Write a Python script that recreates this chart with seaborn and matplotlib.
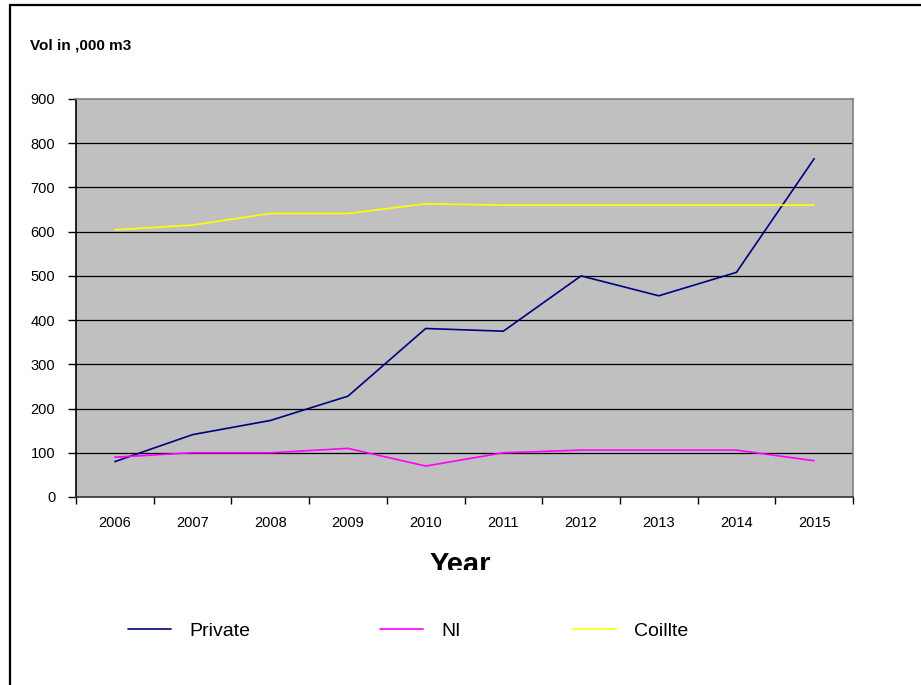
import matplotlib
matplotlib.use("Agg")
import matplotlib.pyplot as plt
import seaborn as sns
import pandas as pd
from matplotlib.transforms import Bbox
from matplotlib.lines import Line2D

years = ["2006", "2007", "2008", "2009", "2010", "2011", "2012", "2013", "2014", "2015"]
private = [80, 141, 173, 228, 381, 375, 500, 455, 508, 765]
ni = [90, 100, 100, 110, 70, 100, 106, 106, 106, 82]
coillte = [604, 615, 641, 641, 663, 660, 660, 660, 660, 660]
series_names = ["Private", "NI", "Coillte"]
series_colors = ["#000080", "#FF00FF", "#FFFF00"]
y_ticks = [0, 100, 200, 300, 400, 500, 600, 700, 800, 900]

df = pd.DataFrame({
    "Year": years * 3,
    "Volume": private + ni + coillte,
    "Series": ["Private"] * 10 + ["NI"] * 10 + ["Coillte"] * 10,
})
df["pos"] = list(range(10)) * 3

sns.set_theme(style="white")
plt.rcParams["font.family"] = ["Liberation Sans", "DejaVu Sans"]
plt.rcParams["text.color"] = "black"
plt.rcParams["axes.labelcolor"] = "black"
plt.rcParams["xtick.color"] = "black"
plt.rcParams["ytick.color"] = "black"

W, H = 921, 685
fig = plt.figure(figsize=(W / 100, H / 100), dpi=100)
fig.patch.set_facecolor("white")
ax = fig.add_axes([76 / W, 1 - 497 / H, (853 - 76) / W, (497 - 99) / H])
ax.set_facecolor("#C0C0C0")

sns.lineplot(data=df, x="pos", y="Volume", hue="Series", hue_order=series_names,
             palette=dict(zip(series_names, series_colors)), linewidth=1.2,
             ax=ax, legend=False, zorder=3)

ax.set_xlim(-0.5, 9.5)
ax.set_ylim(0, 900)
ax.set_yticks(y_ticks)
ax.set_yticklabels([str(v) for v in y_ticks], fontsize=10.5, color="black")
ax.set_xticks(range(10))
ax.set_xticklabels(years, fontsize=10.5, color="black")
ax.set_xticks([i - 0.5 for i in range(11)], minor=True)
ax.tick_params(axis="x", which="major", length=0, pad=14)
ax.tick_params(axis="x", which="minor", length=5, width=1, color="black", direction="out", bottom=True)
ax.tick_params(axis="y", which="major", length=6, width=1, color="black", direction="out", left=True, pad=9)
ax.set_xlabel("")
ax.set_ylabel("")
ax.grid(False)
for v in y_ticks[1:-1]:
    ax.axhline(v, color="black", linewidth=0.9, zorder=1)

ax.spines["left"].set_color("black")
ax.spines["bottom"].set_color("#303030")
ax.spines["top"].set_color("#808080")
ax.spines["right"].set_color("#808080")
for s in ax.spines.values():
    s.set_linewidth(1.2)
    s.set_visible(True)

fig.text(30 / W, 1 - 46 / H, "Vol in ,000 m3", fontsize=11, fontweight="bold",
         ha="left", va="center", color="black")

yt = fig.text(460 / W, 1 - 573 / H, "Year", fontsize=21, fontweight="bold",
              ha="center", va="baseline", color="black")
yt.set_clip_box(Bbox([[0, H - 570], [W, H]]))
yt.set_clip_on(True)

# legend entries placed like the reference
positions = [128, 380, 573]
for name, col, x0 in zip(series_names, series_colors, positions):
    h = Line2D([], [], color=col, linewidth=1.2)
    lg = fig.legend([h], [name], loc="center left",
                    bbox_to_anchor=(x0 / W, 1 - 631 / H), frameon=False,
                    fontsize=14, handlelength=2.2, handletextpad=0.95,
                    borderpad=0, borderaxespad=0, labelcolor="black")

# outer border (top and left only)
fig.add_artist(Line2D([10 / W, 1], [1 - 5 / H, 1 - 5 / H], color="black", linewidth=1.6,
                      transform=fig.transFigure))
fig.add_artist(Line2D([10 / W, 10 / W], [0, 1 - 5 / H], color="black", linewidth=1.6,
                      transform=fig.transFigure))

fig.savefig("out.png", dpi=100)
